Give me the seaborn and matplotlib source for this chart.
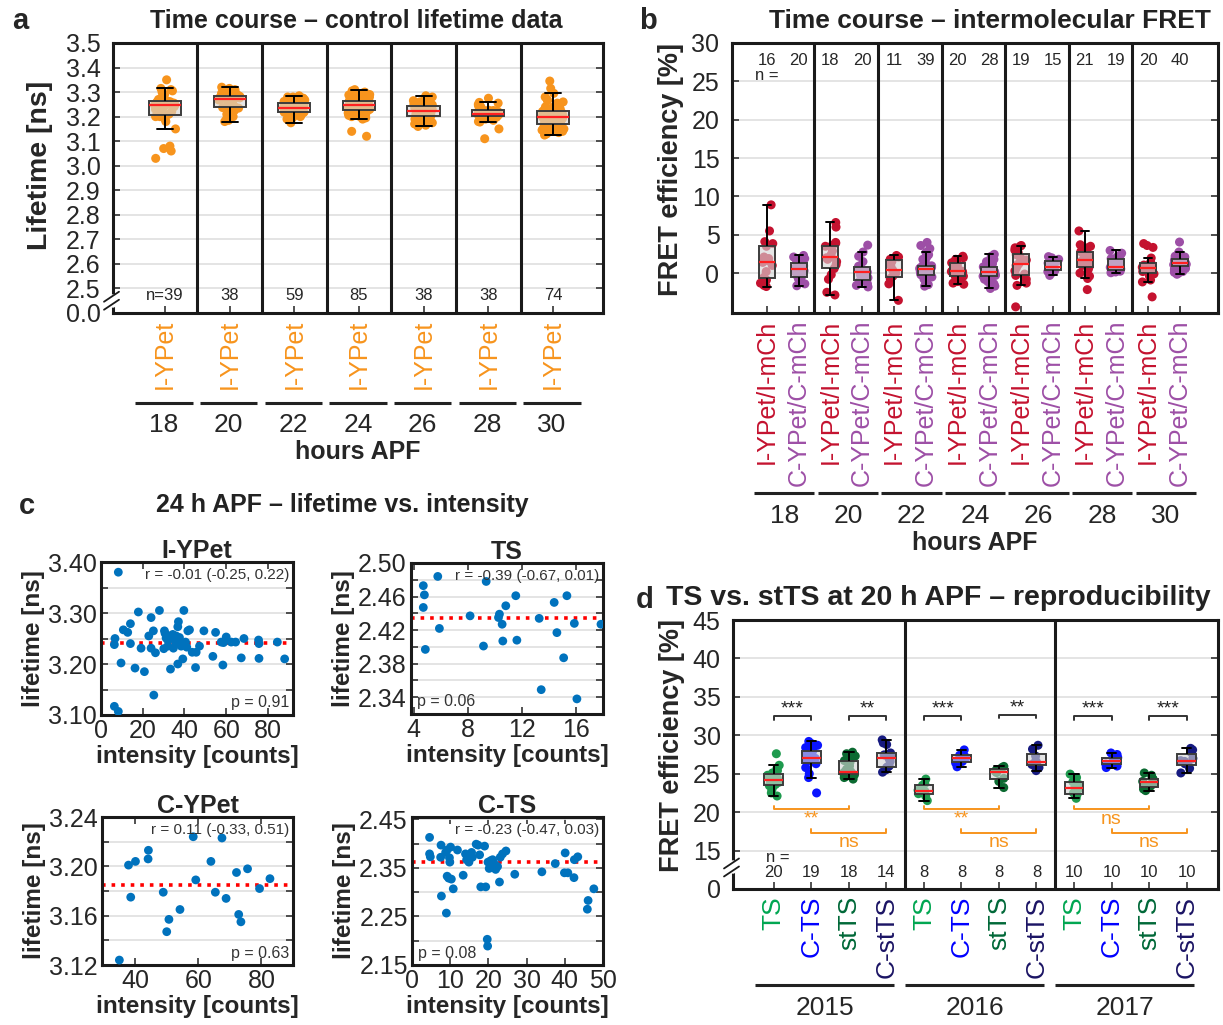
import matplotlib
matplotlib.use('Agg')
import numpy as np
import pandas as pd
import seaborn as sns
import matplotlib.pyplot as plt

W, H = 1223, 1025

ORANGE = '#f7941d'
RED_B = '#c4122f'
PURPLE_B = '#9d4fa6'
BLUE_C = '#0072bd'
GREY_TXT = '#333333'

# ---------------- panel a: control lifetime time course ----------------
hours = ['18', '20', '22', '24', '26', '28', '30']
a_n = ['n=39', '38', '59', '85', '38', '38', '74']
life_18 = [3.03, 3.06, 3.07, 3.08, 3.15, 3.18, 3.19, 3.20, 3.20, 3.205, 3.21,
           3.22, 3.22, 3.23, 3.23, 3.24, 3.24, 3.24, 3.245, 3.247,
           3.25, 3.25, 3.25, 3.255, 3.255, 3.26, 3.26, 3.26, 3.262, 3.265,
           3.27, 3.27, 3.28, 3.29, 3.30, 3.305, 3.31, 3.315, 3.35]
life_20 = [3.18, 3.185, 3.19, 3.20, 3.21, 3.22, 3.225, 3.23, 3.235, 3.237, 3.24,
           3.245, 3.25, 3.255, 3.26, 3.265, 3.268, 3.27, 3.272, 3.274,
           3.275, 3.276, 3.277, 3.278, 3.279, 3.28, 3.28, 3.282, 3.283,
           3.285, 3.29, 3.29, 3.295, 3.30, 3.305, 3.31, 3.315, 3.32]
life_22 = [3.175, 3.18, 3.185, 3.19, 3.195, 3.20, 3.20, 3.205, 3.21, 3.21, 3.21,
           3.215, 3.215, 3.215, 3.218, 3.218,
           3.22, 3.22, 3.222, 3.225, 3.225, 3.228, 3.228, 3.23, 3.23, 3.232,
           3.232, 3.234, 3.234, 3.235,
           3.237, 3.238, 3.24, 3.24, 3.242, 3.244, 3.245, 3.247, 3.248, 3.25,
           3.25, 3.252, 3.254, 3.255, 3.256,
           3.258, 3.26, 3.26, 3.262, 3.265, 3.265, 3.268, 3.27, 3.27, 3.275,
           3.275, 3.28, 3.28, 3.285]
life_24 = [3.12, 3.14, 3.19, 3.195, 3.20, 3.20, 3.205, 3.21, 3.21, 3.21, 3.215,
           3.215, 3.215, 3.22, 3.22, 3.22, 3.22, 3.225, 3.225, 3.225, 3.225,
           3.228,
           3.23, 3.23, 3.23, 3.232, 3.232, 3.235, 3.235, 3.235, 3.238, 3.238,
           3.24, 3.24, 3.24, 3.242, 3.242, 3.244, 3.244, 3.245, 3.246, 3.247,
           3.248,
           3.249, 3.25, 3.25, 3.25, 3.252, 3.252, 3.253, 3.254, 3.255, 3.255,
           3.256, 3.256, 3.257, 3.258, 3.258, 3.259, 3.26, 3.26, 3.26, 3.261,
           3.262,
           3.263, 3.265, 3.265, 3.267, 3.27, 3.27, 3.272, 3.275, 3.275, 3.278,
           3.28, 3.28, 3.283, 3.285, 3.288, 3.29, 3.292, 3.295, 3.30, 3.305, 3.31]
life_26 = [3.16, 3.165, 3.17, 3.175, 3.18, 3.185, 3.19, 3.195, 3.20, 3.203, 3.205,
           3.208, 3.21, 3.212, 3.215, 3.218, 3.22, 3.222, 3.223, 3.225,
           3.227, 3.23, 3.232, 3.235, 3.238, 3.24, 3.242, 3.244, 3.245,
           3.248, 3.25, 3.255, 3.26, 3.265, 3.27, 3.275, 3.28, 3.285]
life_28 = [3.11, 3.15, 3.178, 3.18, 3.185, 3.19, 3.195, 3.198, 3.20, 3.201, 3.202,
           3.203, 3.205, 3.206, 3.207, 3.208, 3.21, 3.211, 3.212, 3.213,
           3.214, 3.215, 3.216, 3.218, 3.22, 3.222, 3.224, 3.225, 3.226,
           3.228, 3.23, 3.235, 3.24, 3.245, 3.25, 3.255, 3.258, 3.275]
life_30 = [3.125, 3.13, 3.135, 3.14, 3.14, 3.145, 3.15, 3.15, 3.155, 3.155, 3.16,
           3.16, 3.162, 3.164, 3.165, 3.166, 3.167, 3.168, 3.169, 3.17,
           3.172, 3.174, 3.176, 3.178, 3.18, 3.182, 3.184, 3.185, 3.187, 3.189,
           3.19, 3.192, 3.193, 3.195, 3.196, 3.197, 3.198, 3.199,
           3.20, 3.201, 3.202, 3.204, 3.205, 3.206, 3.208, 3.21, 3.211, 3.212,
           3.214, 3.215, 3.216, 3.218, 3.219, 3.22, 3.221, 3.222,
           3.224, 3.226, 3.228, 3.23, 3.232, 3.235, 3.238, 3.24, 3.245, 3.25,
           3.255, 3.26, 3.265, 3.27, 3.28, 3.295, 3.315, 3.345]
life_groups = [life_18, life_20, life_22, life_24, life_26, life_28, life_30]

# ---------------- panel b: intermolecular FRET ----------------
b_labels = ['I-YPet/I-mCh', 'C-YPet/C-mCh']
b_n = ['16', '20', '18', '20', '11', '39', '20', '28', '19', '15', '21', '19', '20', '40']
fret_i18 = [-1.75, -1.6, -1.3, -0.9, -0.55, 0.2, 1.0, 1.4, 1.6, 1.9, 2.1, 3.5, 3.85, 4.1, 5.5, 8.9]
fret_c18 = [-1.65, -1.4, -1.1, -0.8, -0.55, -0.45, -0.2, 0.1, 0.3, 0.55, 0.65, 0.8, 0.95, 1.1,
            1.25, 1.4, 1.6, 1.9, 2.1, 2.3]
fret_i20 = [-2.85, -2.5, -0.8, -0.2, 0.6, 1.1, 1.5, 1.8, 2.0, 2.1, 2.4, 2.9, 3.5, 3.62, 3.9,
            4.0, 6.0, 6.6]
fret_c20 = [-1.8, -1.6, -1.4, -1.2, -1.0, -0.95, -0.6, -0.4, -0.2, 0.05, 0.12, 0.3, 0.5, 0.7,
            0.8, 0.9, 1.5, 2.2, 2.75, 3.65]
fret_i22 = [-3.55, -1.4, -0.7, -0.4, 0.0, 0.43, 1.0, 1.55, 1.8, 2.1, 2.3]
fret_c22 = [-1.7, -1.5, -1.3, -1.0, -0.8, -0.6, -0.5, -0.4, -0.3, -0.22, -0.2,
            -0.1, 0.0, 0.1, 0.2, 0.3, 0.35, 0.4, 0.45, 0.5,
            0.55, 0.6, 0.65, 0.7, 0.75, 0.8, 0.85, 0.9, 0.95, 1.0,
            1.2, 1.5, 1.8, 2.1, 2.4, 2.7, 3.2, 3.6, 4.0]
fret_i24 = [-1.45, -1.3, -1.1, -0.8, -0.5, -0.4, -0.2, -0.1, 0.1, 0.2, 0.25, 0.4, 0.6, 0.9,
            1.25, 1.35, 1.6, 1.8, 2.0, 2.2]
fret_c24 = [-2.0, -1.7, -1.4, -1.1, -0.8, -0.6, -0.45, -0.4, -0.3, -0.2, -0.1, 0.0, 0.1,
            0.18, 0.24, 0.3, 0.4, 0.5, 0.6, 0.7, 0.82, 0.95, 1.2, 1.5, 1.8, 2.0, 2.2, 2.45]
fret_i26 = [-4.4, -1.6, -1.3, -0.8, -0.3, -0.12, 0.3, 0.7, 1.0, 1.15, 1.4, 1.7, 2.1, 2.4,
            2.65, 3.0, 3.3, 3.5, 3.6]
fret_c26 = [-0.3, 0.0, 0.2, 0.35, 0.42, 0.6, 0.75, 0.85, 1.0, 1.3, 1.5, 1.65, 1.8, 2.0, 2.15]
fret_i28 = [-2.15, -0.7, -0.4, 0.0, 0.5, 0.85, 1.0, 1.2, 1.4, 1.55, 1.7, 1.9, 2.1, 2.3,
            2.6, 2.8, 3.0, 3.3, 3.5, 3.7, 5.5]
fret_c28 = [0.05, 0.15, 0.25, 0.35, 0.4, 0.46, 0.55, 0.65, 0.75, 0.85, 1.0, 1.2, 1.4, 1.7,
            1.9, 2.1, 2.3, 2.6, 2.95]
fret_i30 = [-3.1, -1.15, -0.9, -0.4, -0.1, 0.0, 0.2, 0.4, 0.6, 0.7, 0.76, 0.85, 0.95, 1.05,
            1.25, 1.4, 1.97, 3.35, 3.6, 3.85]
fret_c30 = [-0.15, 0.0, 0.1, 0.2, 0.35, 0.5, 0.6, 0.7, 0.8, 0.84, 0.87,
            0.9, 0.95, 1.0, 1.05, 1.1, 1.15, 1.2, 1.25, 1.27, 1.3,
            1.35, 1.4, 1.45, 1.5, 1.55, 1.6, 1.65, 1.7, 1.78, 1.82,
            1.9, 2.0, 2.1, 2.2, 2.35, 2.5, 2.6, 2.75, 4.05]
fret_groups = [fret_i18, fret_c18, fret_i20, fret_c20, fret_i22, fret_c22, fret_i24, fret_c24,
               fret_i26, fret_c26, fret_i28, fret_c28, fret_i30, fret_c30]

# ---------------- panel c: lifetime vs intensity (24 h APF) ----------------
iypet_int = [8.3, 6.7, 6.4, 9.6, 6.4, 8.3, 10.7, 12.8, 14.1, 14.1, 17.9, 16.3, 19.2, 20.8,
             24.0, 22.9, 25.1, 24.0, 26.1, 25.3, 28.0, 30.4, 30.7, 31.2, 32.0, 32.8, 33.6,
             35.2, 36.0, 36.8, 37.6, 30.1, 34.7, 33.3, 36.8, 37.1, 36.8, 39.7, 39.2, 41.6,
             42.4, 40.5, 41.1, 43.7, 45.6, 45.3, 47.2, 49.3, 53.6, 54.9, 58.4, 57.6, 58.7,
             60.0, 62.4, 64.5, 67.2, 68.5, 75.5, 75.7, 75.7, 84.5, 88.0, 34.4, 35.7, 38.4, 32.0]
iypet_life = [3.380, 3.250, 3.238, 3.202, 3.117, 3.107, 3.267, 3.262, 3.279, 3.240, 3.302,
              3.192, 3.231, 3.185, 3.291, 3.255, 3.265, 3.231, 3.222, 3.139, 3.305, 3.265,
              3.260, 3.251, 3.247, 3.255, 3.251, 3.250, 3.255, 3.245, 3.252, 3.230, 3.231,
              3.190, 3.200, 3.283, 3.273, 3.305, 3.210, 3.265, 3.267, 3.243, 3.233, 3.223,
              3.223, 3.193, 3.235, 3.265, 3.215, 3.262, 3.198, 3.243, 3.242, 3.253, 3.243,
              3.243, 3.212, 3.250, 3.247, 3.240, 3.211, 3.243, 3.210, 3.258, 3.243, 3.235, 3.235]
ts_int = [5.78, 4.71, 4.79, 4.71, 5.90, 4.86, 8.17, 9.16, 9.36, 10.34, 10.27, 10.54, 10.81,
          10.59, 11.55, 11.63, 13.28, 13.43, 14.39, 14.59, 15.09, 15.33, 15.88, 16.07, 17.85]
ts_life = [2.484, 2.473, 2.462, 2.447, 2.422, 2.397, 2.437, 2.401, 2.478, 2.439, 2.435, 2.427,
           2.449, 2.407, 2.461, 2.408, 2.434, 2.349, 2.453, 2.417, 2.387, 2.461, 2.428, 2.338,
           2.427]
cypet_int = [35.0, 37.9, 38.6, 40.1, 44.2, 44.1, 48.9, 50.0, 50.7, 54.2, 58.4, 59.2, 64.0,
             65.4, 67.5, 68.8, 72.1, 72.8, 73.5, 75.6, 79.4, 82.7]
cypet_life = [3.124, 3.201, 3.175, 3.204, 3.213, 3.206, 3.179, 3.147, 3.157, 3.165, 3.224,
              3.189, 3.204, 3.179, 3.223, 3.174, 3.195, 3.161, 3.155, 3.198, 3.182, 3.190]
cts_int = [4.6, 4.6, 4.8, 7.6, 7.5, 8.8, 9.2, 9.8, 9.9, 9.2, 9.6, 10.3, 7.7, 9.0, 10.8, 10.1,
           11.9, 13.4, 14.0, 14.3, 14.9, 15.6, 15.8, 16.8, 17.3, 17.7, 19.0, 18.0, 19.3, 19.7,
           19.8, 19.9, 20.6, 21.1, 20.2, 21.5, 21.9, 22.4, 22.9, 23.1, 23.7, 24.6, 26.9, 34.0,
           37.5, 40.1, 39.9, 40.8, 42.4, 42.5, 43.4, 47.6, 46.1, 45.9]
cts_life = [2.413, 2.379, 2.373, 2.397, 2.372, 2.382, 2.387, 2.371, 2.362, 2.333, 2.329, 2.327,
            2.292, 2.257, 2.307, 2.393, 2.387, 2.335, 2.379, 2.367, 2.362, 2.382, 2.372, 2.399,
            2.397, 2.377, 2.395, 2.311, 2.311, 2.203, 2.189, 2.362, 2.365, 2.367, 2.349, 2.359,
            2.347, 2.353, 2.321, 2.372, 2.379, 2.385, 2.337, 2.342, 2.359, 2.381, 2.340, 2.340,
            2.330, 2.367, 2.373, 2.307, 2.283, 2.265]
c_titles = ['I-YPet', 'TS', 'C-YPet', 'C-TS']
c_mean = [3.241, 2.435, 3.185, 2.362]
c_r = ['r = -0.01 (-0.25, 0.22)', 'r = -0.39 (-0.67, 0.01)',
       'r = 0.11 (-0.33, 0.51)', 'r = -0.23 (-0.47, 0.03)']
c_p = ['p = 0.91', 'p = 0.06', 'p = 0.63', 'p = 0.08']

# ---------------- panel d: TS vs stTS reproducibility ----------------
years = ['2015', '2016', '2017']
d_labels = ['TS', 'C-TS', 'stTS', 'C-stTS']
d_n = ['20', '19', '18', '14', '8', '8', '8', '8', '10', '10', '10', '10']
ts15 = [22.1, 22.5, 22.9, 23.2, 23.45, 23.6, 23.8, 23.9, 24.0, 24.15, 24.25, 24.4, 24.6, 24.8,
        24.95, 25.1, 25.4, 25.7, 26.1, 27.6]
cts15 = [22.5, 24.5, 25.0, 25.8, 26.3, 26.6, 26.8, 26.9, 27.0, 27.1, 27.3, 27.5, 27.7, 27.9,
         28.0, 28.4, 28.7, 28.9, 29.2]
stts15 = [24.3, 24.5, 24.7, 24.85, 24.9, 25.0, 25.1, 25.2, 25.25, 25.3, 25.6, 26.0, 26.5, 26.7,
          27.0, 27.3, 27.6, 27.8]
cstts15 = [25.2, 25.5, 25.8, 25.9, 26.0, 26.6, 27.0, 27.2, 27.3, 27.45, 27.7, 28.8, 29.0, 29.4]
ts16 = [21.5, 22.1, 22.4, 22.7, 22.85, 23.5, 23.7, 24.3]
cts16 = [25.9, 26.4, 26.6, 27.0, 27.2, 27.4, 27.5, 28.1]
stts16 = [23.2, 24.0, 24.4, 25.15, 25.3, 25.5, 25.8, 25.95]
cstts16 = [25.4, 25.8, 26.2, 26.5, 26.65, 27.3, 28.2, 28.7]
ts17 = [21.8, 22.0, 22.3, 22.5, 23.0, 23.25, 23.6, 23.95, 24.5, 24.95]
cts17 = [25.8, 26.0, 26.2, 26.25, 26.6, 26.7, 27.05, 27.1, 27.5, 27.7]
stts17 = [22.8, 23.0, 23.3, 23.4, 23.85, 24.0, 24.3, 24.4, 24.8, 25.1]
cstts17 = [25.1, 25.7, 26.1, 26.3, 26.6, 26.7, 27.0, 27.8, 28.1, 28.3]
eff_groups = [ts15, cts15, stts15, cstts15, ts16, cts16, stts16, cstts16,
              ts17, cts17, stts17, cstts17]
d_point_colors = ['#1e9a4e', '#0a14ff', '#0b6a31', '#161a80']
d_label_colors = ['#00a651', '#0000ff', '#006838', '#1b1464']
d_black_sig = [['***', '**'], ['***', '**'], ['***', '***']]
d_orange_sig1 = ['**', '**', 'ns']
d_orange_sig2 = ['ns', 'ns', 'ns']

sns.set_style('white')
plt.rcParams['font.family'] = ['Liberation Sans', 'DejaVu Sans']
plt.rcParams['axes.unicode_minus'] = False
np.random.seed(7)

fig = plt.figure(figsize=(W / 100, H / 100), dpi=100)
fig.patch.set_facecolor('white')


def rect(l, t, r, b):
    return [l / W, 1 - b / H, (r - l) / W, (b - t) / H]


def ftext(x, y, s, **kw):
    fig.text(x / W, 1 - y / H, s, **kw)


def style(ax, pad=9, size=18):
    for sp in ax.spines.values():
        sp.set_visible(True)
        sp.set_linewidth(2.2)
        sp.set_color('#1a1a1a')
    ax.tick_params(direction='in', length=5, width=1.2, labelsize=size, color='#333333')
    ax.tick_params(axis='y', left=True, right=True, pad=pad)
    ax.tick_params(axis='x', bottom=True, pad=5)
    ax.yaxis.grid(True, color='#e2e2e2', lw=1.3)
    ax.xaxis.grid(False)
    ax.set_axisbelow(True)


def box_panel(ax, groups, colors, jitter):
    cats = [str(i) for i in range(len(groups))]
    df = pd.DataFrame({'cat': np.repeat(cats, [len(g) for g in groups]),
                       'val': np.concatenate(groups)})
    sns.stripplot(data=df, x='cat', y='val', order=cats, hue='cat', hue_order=cats,
                  palette=dict(zip(cats, colors)), jitter=jitter, size=6.5, linewidth=0,
                  legend=False, ax=ax, zorder=1)
    sns.boxplot(data=df, x='cat', y='val', order=cats, width=0.5, whis=1.5,
                showfliers=False, ax=ax,
                boxprops=dict(facecolor=(0.84, 0.84, 0.84, 0.62), edgecolor='#3c3c3c',
                              linewidth=1.4),
                medianprops=dict(color='#ff2020', linewidth=1.6),
                whiskerprops=dict(color='black', linewidth=1.4),
                capprops=dict(color='black', linewidth=1.4))
    ax.set_xlabel('')
    ax.set_ylabel('')


def ybreak(ax, yfrac, wpx, hpx):
    tr = ax.transAxes
    gap = 4.0 / hpx
    ax.plot([0, 0], [yfrac - gap, yfrac + gap], transform=tr, color='white', lw=4,
            clip_on=False, zorder=20)
    for dy in (-gap, gap):
        ax.plot([-9 / wpx, 6 / wpx], [yfrac + dy - 5 / hpx, yfrac + dy + 5 / hpx],
                transform=tr, color='#1a1a1a', lw=1.3, clip_on=False, zorder=21)


def group_lines(ax, spans, labels, yline, ylab, size=19):
    tr = ax.get_xaxis_transform()
    for (x0, x1), lab in zip(spans, labels):
        ax.plot([x0, x1], [yline, yline], transform=tr, clip_on=False, color='#222222',
                lw=2.2, solid_capstyle='butt')
        ax.text((x0 + x1) / 2, ylab, lab, transform=tr, ha='center', va='center',
                fontsize=size)


# ======== panel a ========
ax_a = fig.add_axes(rect(113, 43, 603, 313))
box_panel(ax_a, life_groups, [ORANGE] * 7, 0.17)
style(ax_a)
ax_a.set_ylim(2.4, 3.5)
yt = [2.4] + [2.5 + 0.1 * i for i in range(11)]
ax_a.set_yticks(yt, ['0.0'] + [f'{v:.1f}' for v in yt[1:]])
ax_a.set_xticks(range(7), ['I-YPet'] * 7, rotation=90, color=ORANGE, fontsize=18)
for x in np.arange(0.5, 6.5):
    ax_a.axvline(x, color='#1a1a1a', lw=2.2, zorder=5)
for i, s in enumerate(a_n):
    ax_a.text(i, 2.47, s, ha='center', va='center', fontsize=12)
ax_a.set_ylabel('Lifetime [ns]', fontsize=20.5, fontweight='bold')
ax_a.yaxis.set_label_coords(-0.122, 0.548)
ybreak(ax_a, 0.05 / 1.1, 490, 270)
group_lines(ax_a, [(i - 0.46, i + 0.43) for i in range(7)], hours, -0.333, -0.415)
ax_a.text(0.5, -0.515, 'hours APF', transform=ax_a.transAxes, ha='center', va='center',
          fontsize=18, fontweight='bold')
ftext(20, 21, 'a', fontsize=21, fontweight='bold', ha='center', va='center')
ftext(356, 21, 'Time course \u2013 control lifetime data', fontsize=18, fontweight='bold',
      ha='center', va='center', color='#222222')

# ======== panel b ========
ax_b = fig.add_axes(rect(732, 43, 1218, 313))
box_panel(ax_b, fret_groups, [RED_B, PURPLE_B] * 7, 0.2)
style(ax_b)
ax_b.set_ylim(-5.2, 30)
ax_b.set_yticks(range(0, 31, 5))
ax_b.set_xticks(range(14), b_labels * 7, rotation=90, fontsize=18)
for i, t in enumerate(ax_b.get_xticklabels()):
    t.set_color([RED_B, PURPLE_B][i % 2])
for x in np.arange(1.5, 13, 2):
    ax_b.axvline(x, color='#1a1a1a', lw=2.2, zorder=5)
for i, s in enumerate(b_n):
    ax_b.text(i, 27.7, s, ha='center', va='center', fontsize=12)
ax_b.text(0, 25.8, 'n =', ha='center', va='center', fontsize=12)
ax_b.set_ylabel('FRET efficiency [%]', fontsize=19.5, fontweight='bold')
ax_b.yaxis.set_label_coords(-0.098, 0.53)
group_lines(ax_b, [(2 * g - 0.4, 2 * g + 1.5) for g in range(7)], hours, -0.667, -0.752)
ax_b.text(0.5, -0.852, 'hours APF', transform=ax_b.transAxes, ha='center', va='center',
          fontsize=18, fontweight='bold')
ftext(648, 21, 'b', fontsize=21, fontweight='bold', ha='center', va='center')
ftext(990, 21, 'Time course \u2013 intermolecular FRET', fontsize=19, fontweight='bold',
      ha='center', va='center', color='#222222')

# ======== panel c ========
ftext(27, 506, 'c', fontsize=21, fontweight='bold', ha='center', va='center')
ftext(342, 505, '24 h APF \u2013 lifetime vs. intensity', fontsize=18, fontweight='bold',
      ha='center', va='center', color='#222222')

c_specs = [
    (rect(101, 562, 293, 715), iypet_int, iypet_life, (0, 92), [0, 20, 40, 60, 80],
     (3.10, 3.40), np.arange(3.10, 3.401, 0.05), [3.10, 3.20, 3.30, 3.40], False),
    (rect(411, 563, 603, 714), ts_int, ts_life, (3.8, 18.0), [4, 8, 12, 16],
     (2.32, 2.50), np.arange(2.32, 2.501, 0.02), [2.34, 2.38, 2.42, 2.46, 2.50], True),
    (rect(102, 817, 293, 965), cypet_int, cypet_life, (29.5, 90), [40, 60, 80],
     (3.12, 3.24), np.arange(3.12, 3.241, 0.02), [3.12, 3.16, 3.20, 3.24], False),
    (rect(412, 817, 603, 965), cts_int, cts_life, (0, 50), [0, 10, 20, 30, 40, 50],
     (2.15, 2.455), np.arange(2.15, 2.451, 0.05), [2.15, 2.25, 2.35, 2.45], True),
]
for k, (r, xs, ys, xl, xt, yl, yt_all, yt_lab, p_left) in enumerate(c_specs):
    ax = fig.add_axes(r)
    sns.scatterplot(x=xs, y=ys, color=BLUE_C, s=40, edgecolor='none', ax=ax, zorder=3)
    ax.axhline(c_mean[k], color='#ff0000', ls=':', lw=2.6, zorder=2)
    style(ax, pad=3)
    ax.tick_params(axis='x', top=True, pad=3)
    ax.set_xlim(*xl)
    ax.set_ylim(*yl)
    ax.set_xticks(xt)
    labs = [f'{v:.2f}' if any(abs(v - u) < 1e-6 for u in yt_lab) else '' for v in yt_all]
    ax.set_yticks(yt_all, labs)
    ax.set_xlabel('intensity [counts]', fontsize=17.5, fontweight='bold', labelpad=1)
    ax.set_ylabel('lifetime [ns]', fontsize=17.5, fontweight='bold', labelpad=2)
    ax.set_title(c_titles[k], fontsize=18, fontweight='bold', pad=3)
    ax.text(0.98, 0.915, c_r[k], transform=ax.transAxes, ha='right', va='center',
            fontsize=11, color=GREY_TXT, zorder=6)
    ax.text(0.03 if p_left else 0.98, 0.08, c_p[k], transform=ax.transAxes,
            ha='left' if p_left else 'right', va='center', fontsize=11.5, color=GREY_TXT,
            zorder=6)

# ======== panel d ========
ax_d = fig.add_axes(rect(733, 620, 1218, 889))
box_panel(ax_d, eff_groups, d_point_colors * 3, 0.17)
style(ax_d)
ax_d.set_ylim(10, 45)
ax_d.set_yticks(range(10, 46, 5), ['0'] + [str(v) for v in range(15, 46, 5)])
ax_d.set_xticks(range(12), d_labels * 3, rotation=90, fontsize=19)
for i, t in enumerate(ax_d.get_xticklabels()):
    t.set_color(d_label_colors[i % 4])
for x in (3.5, 7.5):
    ax_d.axvline(x, color='#1a1a1a', lw=2.2, zorder=5)
for i, s in enumerate(d_n):
    ax_d.text(i, 12.1, s, ha='center', va='center', fontsize=12)
ax_d.text(0.1, 14.1, 'n =', ha='center', va='center', fontsize=12)
ax_d.set_ylabel('FRET efficiency [%]', fontsize=19.5, fontweight='bold')
ax_d.yaxis.set_label_coords(-0.099, 0.535)
ybreak(ax_d, 2.8 / 35, 485, 269)
for g in range(3):
    b0 = 4 * g
    for j, (x0, x1) in enumerate([(b0, b0 + 1), (b0 + 2, b0 + 3)]):
        y = 32.7 if (g == 1 and j == 1) else 32.5
        ax_d.plot([x0, x0, x1, x1], [y - 0.45, y, y, y - 0.45], color='#333333', lw=1.4)
        ax_d.text((x0 + x1) / 2, y + 0.9, d_black_sig[g][j], ha='center', va='center',
                  fontsize=14, color='#222222')
    for (x0, x1), y, s in [((b0, b0 + 2), 20.4, d_orange_sig1[g]),
                           ((b0 + 1, b0 + 3), 17.3, d_orange_sig2[g])]:
        ax_d.plot([x0, x0, x1, x1], [y + 0.45, y, y, y + 0.45], color=ORANGE, lw=1.4)
        ax_d.text((x0 + x1) / 2, y - 1.3, s, ha='center', va='center', fontsize=14,
                  color=ORANGE)
group_lines(ax_d, [(4 * g - 0.5, 4 * g + 3.2) for g in range(3)], years, -0.357, -0.442)
ftext(645, 600, 'd', fontsize=21, fontweight='bold', ha='center', va='center')
ftext(938, 598, 'TS vs. stTS at 20 h APF \u2013 reproducibility', fontsize=20.5,
      fontweight='bold', ha='center', va='center', color='#222222')

fig.savefig('out.png', dpi=100, facecolor='white')
